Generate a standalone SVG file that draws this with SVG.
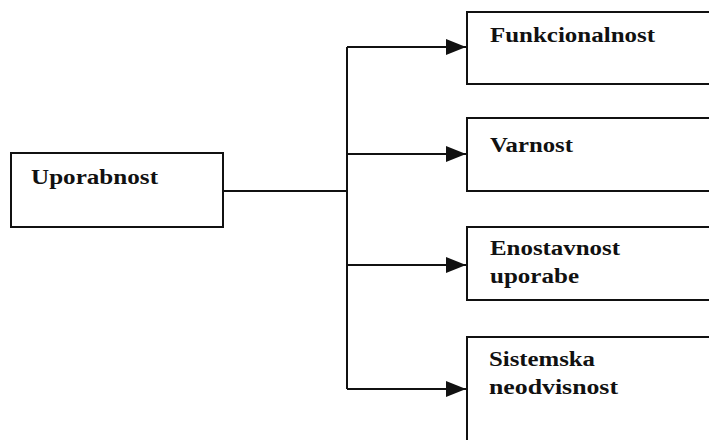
<svg xmlns="http://www.w3.org/2000/svg" width="709" height="440" viewBox="0 0 709 440">
<style>
.box{fill:#fff;stroke:#111;stroke-width:2}
.lbl{font-family:"Liberation Serif","DejaVu Serif",serif;font-weight:bold;font-size:20px;fill:#111}
.wire{fill:none;stroke:#111;stroke-width:2}
</style>
<defs>
<marker id="ah" markerWidth="20" markerHeight="18" refX="20" refY="9" orient="auto" markerUnits="userSpaceOnUse">
<polygon points="0,1 20,9 0,17" fill="#111"/>
</marker>
</defs>
<rect width="709" height="440" fill="#fff"/>
<g id="connectors">
<path class="wire" d="M223,191 H347"/>
<path class="wire" d="M347,47 V389"/>
<path class="wire" d="M347,47 H466" marker-end="url(#ah)"/>
<path class="wire" d="M347,154 H466" marker-end="url(#ah)"/>
<path class="wire" d="M347,265 H466" marker-end="url(#ah)"/>
<path class="wire" d="M347,389 H466" marker-end="url(#ah)"/>
</g>
<g id="uporabnost">
<rect class="box" x="11" y="153" width="212" height="74"/>
<text class="lbl" x="31" y="184" textLength="127" lengthAdjust="spacingAndGlyphs">Uporabnost</text>
</g>
<g id="funkcionalnost">
<rect class="box" x="467" y="12" width="260" height="72"/>
<text class="lbl" x="490" y="42" textLength="165" lengthAdjust="spacingAndGlyphs">Funkcionalnost</text>
</g>
<g id="varnost">
<rect class="box" x="467" y="118" width="260" height="73"/>
<text class="lbl" x="490" y="152" textLength="83" lengthAdjust="spacingAndGlyphs">Varnost</text>
</g>
<g id="enostavnost">
<rect class="box" x="467" y="227" width="260" height="73"/>
<text class="lbl" x="490" y="255" textLength="130" lengthAdjust="spacingAndGlyphs">Enostavnost</text>
<text class="lbl" x="490" y="283" textLength="89" lengthAdjust="spacingAndGlyphs">uporabe</text>
</g>
<g id="sistemska">
<rect class="box" x="467" y="337" width="260" height="120"/>
<text class="lbl" x="489" y="366" textLength="106" lengthAdjust="spacingAndGlyphs">Sistemska</text>
<text class="lbl" x="489" y="394" textLength="129" lengthAdjust="spacingAndGlyphs">neodvisnost</text>
</g>
</svg>
